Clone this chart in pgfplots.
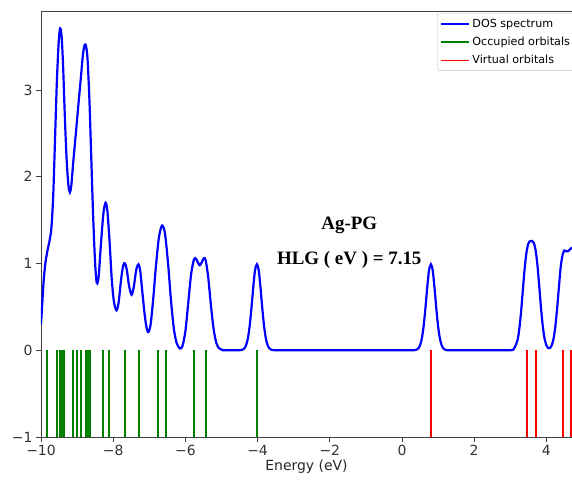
\documentclass[border=0pt]{standalone}
\usepackage{pgfplots}
\pgfplotsset{compat=1.18}
\usepackage{fontspec}
\setmainfont{DejaVu Sans}
\newfontfamily\tnr{Liberation Serif}
\definecolor{mplgreen}{RGB}{0,128,0}
\definecolor{mplblue}{RGB}{0,0,255}
\definecolor{mplred}{RGB}{255,0,0}
\begin{document}
\begin{tikzpicture}
\begin{axis}[
  scale only axis, width=531bp, height=426bp,
  xmin=-10, xmax=4.71, ymin=-1, ymax=3.91,
  axis x line*=box, axis y line*=left,
  xtick pos=left,
  axis line style={black!75, line width=0.8bp},
  tick align=outside, major tick length=5bp,
  tick style={black!75, line width=0.8bp},
  xtick={-10,-8,-6,-4,-2,0,2,4},
  xticklabels={−10,−8,−6,−4,−2,0,2,4},
  ytick={-1,0,1,2,3},
  yticklabels={−1,0,1,2,3},
  ticklabel style={font=\fontsize{14}{16}\selectfont, text=black!80},
  xlabel={Energy (eV)},
  xlabel style={font=\fontsize{14}{16}\selectfont, text=black!85, yshift=3bp},
  legend image code/.code={\draw[#1] (0bp,0bp) -- (22bp,0bp); \path (0bp,0bp) -- (28bp,0bp);},
  legend cell align=left,
  legend style={at={(0.7458,0.994)}, anchor=north west,
    font=\fontsize{11.2}{13}\selectfont, draw=black!25, rounded corners=2bp,
    inner xsep=3bp, inner ysep=3bp, row sep=4.5bp},
]
\coordinate (sw) at (rel axis cs:0,0);
\coordinate (ne) at (rel axis cs:1,1);
\addplot[mplblue, line width=2.2bp, smooth, tension=0.5] coordinates {
(-10,0.30) (-9.97,0.50) (-9.93,0.78) (-9.88,1.00) (-9.82,1.15) (-9.76,1.27)
(-9.71,1.42) (-9.66,1.80) (-9.61,2.45) (-9.56,3.10) (-9.51,3.55) (-9.47,3.71)
(-9.43,3.62) (-9.39,3.30) (-9.34,2.70) (-9.29,2.20) (-9.24,1.90) (-9.20,1.82)
(-9.16,1.90) (-9.10,2.20) (-9.03,2.52) (-8.96,2.85) (-8.90,3.12) (-8.84,3.40)
(-8.79,3.52) (-8.75,3.50) (-8.71,3.35) (-8.66,2.90) (-8.61,2.25) (-8.56,1.60)
(-8.51,1.08) (-8.47,0.82) (-8.44,0.77) (-8.40,0.86) (-8.34,1.22) (-8.27,1.58)
(-8.21,1.70) (-8.16,1.60) (-8.10,1.25) (-8.04,0.82) (-7.98,0.56) (-7.91,0.46)
(-7.85,0.55) (-7.78,0.82) (-7.72,0.98) (-7.67,1.00) (-7.62,0.92) (-7.56,0.74)
(-7.49,0.64) (-7.43,0.73) (-7.36,0.93) (-7.30,0.99) (-7.25,0.91) (-7.18,0.62)
(-7.11,0.35) (-7.04,0.21) (-6.97,0.28) (-6.90,0.55) (-6.82,0.95) (-6.74,1.28)
(-6.67,1.42) (-6.62,1.43) (-6.56,1.33) (-6.48,1.00) (-6.40,0.58) (-6.32,0.25)
(-6.24,0.08) (-6.15,0.02) (-6.08,0.05) (-6.00,0.22) (-5.92,0.55) (-5.84,0.88)
(-5.76,1.05) (-5.70,1.05) (-5.64,1.00) (-5.60,0.98) (-5.55,1.01) (-5.49,1.06)
(-5.44,1.04) (-5.37,0.85) (-5.30,0.55) (-5.22,0.25) (-5.14,0.08) (-5.06,0.02)
(-4.96,0.00) (-4.74,0.00) (-4.52,0.00) (-4.42,0.006) (-4.37,0.020) (-4.32,0.056)
(-4.27,0.135) (-4.22,0.278) (-4.17,0.487) (-4.12,0.726) (-4.07,0.923) (-4.02,0.99)
(-3.97,0.923) (-3.92,0.726) (-3.87,0.487) (-3.82,0.278) (-3.77,0.135) (-3.72,0.056)
(-3.67,0.020) (-3.62,0.006) (-3.52,0.00) (-3.00,0.00) (-2.00,0.00) (-1.00,0.00)
(0.00,0.00) (0.30,0.00) (0.40,0.006) (0.45,0.020) (0.50,0.056) (0.55,0.135)
(0.60,0.278) (0.65,0.487) (0.70,0.726) (0.75,0.923) (0.80,0.99) (0.85,0.923)
(0.90,0.726) (0.95,0.487) (1.00,0.278) (1.05,0.135) (1.10,0.056) (1.15,0.020)
(1.20,0.006) (1.30,0.00) (2.00,0.00) (2.50,0.00) (3.00,0.00) (3.10,0.016)
(3.20,0.115) (3.25,0.245) (3.30,0.447) (3.35,0.70) (3.40,0.947) (3.45,1.13)
(3.50,1.228) (3.55,1.259) (3.60,1.26) (3.65,1.238) (3.70,1.158) (3.75,0.99)
(3.80,0.75) (3.85,0.495) (3.90,0.28) (3.95,0.135) (4.00,0.058) (4.05,0.026)
(4.10,0.026) (4.15,0.058) (4.20,0.135) (4.25,0.28) (4.30,0.49) (4.35,0.74)
(4.40,0.97) (4.45,1.10) (4.50,1.15) (4.55,1.14) (4.60,1.14) (4.65,1.16)
(4.70,1.18) (4.71,1.18)
};
\addlegendentry{DOS spectrum}
\addplot[forget plot, ycomb, mplgreen, line width=2bp, mark=none] coordinates {
(-9.83,-1) (-9.56,-1) (-9.48,-1) (-9.45,-1) (-9.41,-1) (-9.37,-1) (-9.12,-1)
(-8.99,-1) (-8.89,-1) (-8.76,-1) (-8.71,-1) (-8.65,-1) (-8.27,-1) (-8.11,-1)
(-7.66,-1) (-7.28,-1) (-6.75,-1) (-6.53,-1) (-5.75,-1) (-5.43,-1) (-4.01,-1)
};
\addplot[forget plot, ycomb, mplred, line width=2bp, mark=none] coordinates {
(0.80,-1) (3.46,-1) (3.70,-1) (4.45,-1) (4.69,-1)
};
\addlegendimage{mplgreen, line width=1.8bp}
\addlegendentry{Occupied orbitals}
\addlegendimage{mplred, line width=1.8bp}
\addlegendentry{Virtual orbitals}
\node[font=\tnr\bfseries\fontsize{19}{22}\selectfont] at (axis cs:-1.46,1.445) {Ag-PG};
\node[font=\tnr\bfseries\fontsize{19}{22}\selectfont] at (axis cs:-1.46,1.04) {HLG ( eV ) = 7.15};
\end{axis}
\pgfresetboundingbox
\path[use as bounding box] ([xshift=-41bp,yshift=-46bp]sw) rectangle ([yshift=11bp]ne);
\end{tikzpicture}
\end{document}
